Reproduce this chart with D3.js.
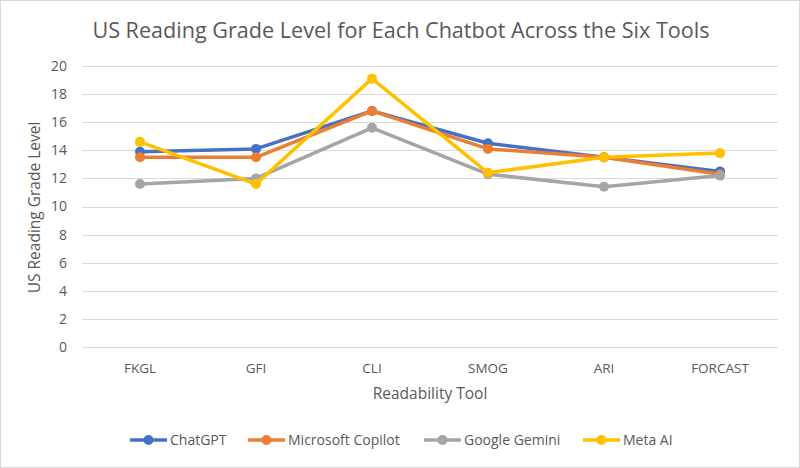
<!DOCTYPE html>
<html>
<head>
<meta charset="utf-8">
<script src="https://cdn.jsdelivr.net/npm/d3@7"></script>
<style>
  body { margin: 0; background: #fff; }
  svg { display: block; font-family: "Open Sans", "Noto Sans", sans-serif; }
</style>
</head>
<body>
<svg width="800" height="468"></svg>
<script>
const tools = ["FKGL", "GFI", "CLI", "SMOG", "ARI", "FORCAST"];
const chatbots = ["ChatGPT", "Microsoft Copilot", "Google Gemini", "Meta AI"];
const colors = ["#4472C4", "#ED7D31", "#A5A5A5", "#FFC000"];

const chatgpt = [13.9, 14.1, 16.8, 14.5, 13.5, 12.5];
const copilot = [13.5, 13.5, 16.8, 14.1, 13.5, 12.3];
const gemini = [11.6, 12.0, 15.6, 12.3, 11.4, 12.2];
const metaAI = [14.6, 11.6, 19.1, 12.4, 13.5, 13.8];

const yTicks = [0, 2, 4, 6, 8, 10, 12, 14, 16, 18, 20];

const series = [chatgpt, copilot, gemini, metaAI];

const svg = d3.select("svg");
const W = 800, H = 468;

// chart border
svg.append("rect")
  .attr("x", 0.5).attr("y", 0.5)
  .attr("width", W - 1).attr("height", H - 1)
  .attr("fill", "#fff").attr("stroke", "#d9d9d9");

const x = d3.scaleBand().domain(tools).range([82, 778]);
const y = d3.scaleLinear().domain([0, 20]).range([347, 66]);

// gridlines
svg.append("g")
  .selectAll("line")
  .data(yTicks)
  .join("line")
  .attr("x1", 82).attr("x2", 778)
  .attr("y1", d => Math.round(y(d)) + 0.5)
  .attr("y2", d => Math.round(y(d)) + 0.5)
  .attr("stroke", "#d9d9d9").attr("stroke-width", 1);

// y tick labels
svg.append("g")
  .selectAll("text")
  .data(yTicks)
  .join("text")
  .attr("x", 67)
  .attr("y", d => y(d))
  .attr("dy", "0.35em")
  .attr("text-anchor", "end")
  .attr("font-size", 14)
  .attr("fill", "#595959")
  .text(d => d);

// x tick labels
svg.append("g")
  .selectAll("text")
  .data(tools)
  .join("text")
  .attr("x", d => x(d) + x.bandwidth() / 2)
  .attr("y", 368)
  .attr("dy", "0.35em")
  .attr("text-anchor", "middle")
  .attr("font-size", 13.5)
  .attr("fill", "#595959")
  .text(d => d);

// title
svg.append("text")
  .attr("x", 401).attr("y", 38)
  .attr("text-anchor", "middle")
  .attr("font-size", 21.6)
  .attr("fill", "#595959")
  .text("US Reading Grade Level for Each Chatbot Across the Six Tools");

// axis titles
svg.append("text")
  .attr("x", 430).attr("y", 399)
  .attr("text-anchor", "middle")
  .attr("font-size", 15.5)
  .attr("fill", "#595959")
  .text("Readability Tool");

svg.append("text")
  .attr("transform", "translate(40," + (y(10) + 1) + ") rotate(-90)")
  .attr("text-anchor", "middle")
  .attr("font-size", 15.5)
  .attr("fill", "#595959")
  .text("US Reading Grade Level");

// lines + markers
const line = d3.line()
  .x((d, i) => x(tools[i]) + x.bandwidth() / 2)
  .y(d => y(d));

series.forEach((vals, s) => {
  const g = svg.append("g");
  g.append("path")
    .datum(vals)
    .attr("d", line)
    .attr("fill", "none")
    .attr("stroke", colors[s])
    .attr("stroke-width", 3.5)
    .attr("stroke-linejoin", "round")
    .attr("stroke-linecap", "round");
  g.selectAll("circle")
    .data(vals)
    .join("circle")
    .attr("cx", (d, i) => x(tools[i]) + x.bandwidth() / 2)
    .attr("cy", d => y(d))
    .attr("r", 5)
    .attr("fill", colors[s]);
});

// legend
const legendX = [130, 248, 424, 583];
const legend = svg.append("g")
  .selectAll("g")
  .data(chatbots)
  .join("g")
  .attr("transform", (d, i) => "translate(" + legendX[i] + ",440)");
legend.append("line")
  .attr("x1", 0).attr("x2", 37)
  .attr("stroke", (d, i) => colors[i])
  .attr("stroke-width", 3.5);
legend.append("circle")
  .attr("cx", 18.5).attr("r", 5)
  .attr("fill", (d, i) => colors[i]);
legend.append("text")
  .attr("x", 40)
  .attr("dy", "0.35em")
  .attr("font-size", 14)
  .attr("fill", "#595959")
  .text(d => d);
</script>
</body>
</html>
